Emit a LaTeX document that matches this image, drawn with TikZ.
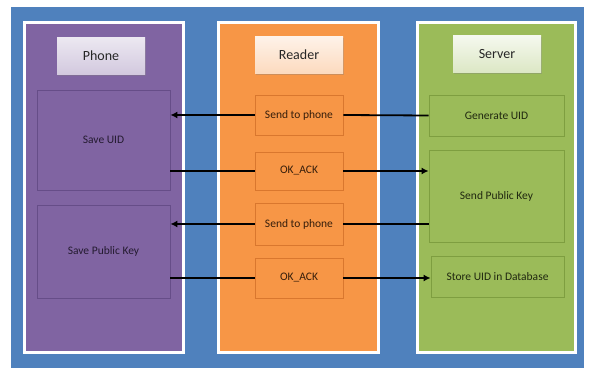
\documentclass[tikz,border=0pt]{standalone}
\usepackage{fontspec}
\setmainfont{Carlito}
\usetikzlibrary{arrows.meta,shadows}
\definecolor{bgblue}{HTML}{4F81BD}
\definecolor{purp}{HTML}{8064A2}
\definecolor{purpdk}{HTML}{664D88}
\definecolor{oran}{HTML}{F79646}
\definecolor{orandk}{HTML}{D9772E}
\definecolor{gree}{HTML}{9BBB59}
\definecolor{greedk}{HTML}{7E9E40}
\tikzset{
  panel/.style={draw=white, line width=3pt},
  header/.style={minimum width=88pt, minimum height=37pt, inner sep=0pt,
    font=\fontsize{14}{16}\selectfont, drop shadow={opacity=0.35, shadow xshift=1pt, shadow yshift=-1.5pt}},
  stepbox/.style={draw, line width=0.8pt, inner sep=0pt, font=\fontsize{11.5}{13}\selectfont},
  link/.style={line width=1.8pt, black},
  linkarrow/.style={link, -{Latex[length=7pt,width=7pt]}}
}
\begin{document}
\begin{tikzpicture}[x=1pt,y=-1pt]
\useasboundingbox (0,0) rectangle (589,371);
\fill[white] (0,0) rectangle (589,371);
\fill[bgblue] (11,7) rectangle (584,368);

% swim lanes
\filldraw[panel, fill=purp] (24,23) rectangle (183,352);
\filldraw[panel, fill=oran] (218,23) rectangle (378,352);
\filldraw[panel, fill=gree] (417,23) rectangle (575,352);

% lane titles
\node[header, top color=white!85!purp, bottom color=white!65!purp, text=black!85] (hphone) at (101,56) {Phone};
\node[header, top color=white!88!oran, bottom color=white!65!oran, text=black!85] (hreader) at (299,55) {Reader};
\node[header, top color=white!90!gree, bottom color=white!65!gree, text=black!85] (hserver) at (497,54) {Server};

% phone steps
\node[stepbox, draw=purpdk, fill=purp, text=purpdk!35!black, minimum width=133pt, minimum height=100pt] (saveuid) at (103.5,140) {Save UID};
\node[stepbox, draw=purpdk, fill=purp, text=purpdk!35!black, minimum width=133pt, minimum height=93pt] (savepk) at (103.5,251.5) {Save Public Key};

% reader steps
\node[stepbox, draw=orandk, fill=oran, text=orandk!25!black, minimum width=88pt, minimum height=40pt] (send1) at (299,115) {Send to phone};
\node[stepbox, draw=orandk, fill=oran, text=orandk!25!black, minimum width=88pt, minimum height=38pt] (ack1) at (299,171) {OK\_ACK};
\node[stepbox, draw=orandk, fill=oran, text=orandk!25!black, minimum width=88pt, minimum height=42pt] (send2) at (299,224) {Send to phone};
\node[stepbox, draw=orandk, fill=oran, text=orandk!25!black, minimum width=88pt, minimum height=40pt] (ack2) at (299,278) {OK\_ACK};

% server steps
\node[stepbox, draw=greedk, fill=gree, text=greedk!25!black, minimum width=135pt, minimum height=41pt] (genuid) at (496.5,115.5) {Generate UID};
\node[stepbox, draw=greedk, fill=gree, text=greedk!25!black, minimum width=135pt, minimum height=92pt] (sendpk) at (496.5,196) {Send Public Key};
\node[stepbox, draw=greedk, fill=gree, text=greedk!25!black, minimum width=133pt, minimum height=41pt] (store) at (497.5,276.5) {Store UID in Database};

% message flow
\draw[link] (genuid.west) -- (send1.east);
\draw[linkarrow] (send1.west) -- (send1.west -| saveuid.east);
\draw[link] (ack1.west -| saveuid.east) -- (ack1.west);
\draw[linkarrow] (ack1.east) -- (ack1.east -| sendpk.west);
\draw[link] (send2.east -| sendpk.west) -- (send2.east);
\draw[linkarrow] (send2.west) -- (send2.west -| savepk.east);
\draw[link] (ack2.west -| savepk.east) -- (ack2.west);
\draw[linkarrow] (ack2.east) -- (ack2.east -| store.west);
\end{tikzpicture}
\end{document}
